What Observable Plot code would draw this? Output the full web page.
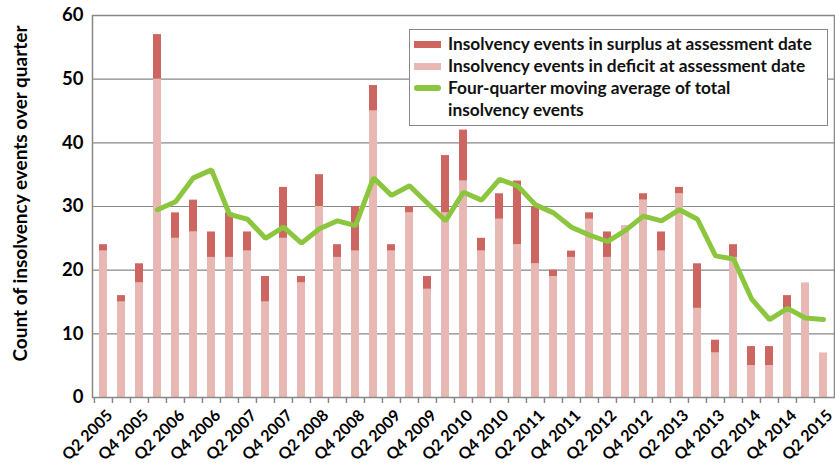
<!DOCTYPE html>
<html>
<head>
<meta charset="utf-8">
<script src="https://cdn.jsdelivr.net/npm/d3@7"></script>
<script src="https://cdn.jsdelivr.net/npm/@observablehq/plot@0.6"></script>
<style>
  html, body { margin: 0; padding: 0; background: #fff; }
  #wrap { position: relative; width: 835px; height: 467px; font-family: Lato, "Open Sans", sans-serif; }
  #legend { position: absolute; left: 409px; top: 29px; width: 419px; height: 97px; background: #fff;
    border: 1.5px solid #888; box-sizing: border-box; padding: 3px 0 0 4px; }
  .item { display: flex; align-items: flex-start; font-weight: 700; font-size: 17.3px; line-height: 22px; color: #111; }
  .sw { width: 27px; height: 7px; margin-top: 8px; margin-right: 7px; flex: none; }
</style>
</head>
<body>
<div id="wrap"></div>
<script>
const quarters = ["Q2 2005","Q3 2005","Q4 2005","Q1 2006","Q2 2006","Q3 2006","Q4 2006","Q1 2007","Q2 2007","Q3 2007","Q4 2007","Q1 2008","Q2 2008","Q3 2008","Q4 2008","Q1 2009","Q2 2009","Q3 2009","Q4 2009","Q1 2010","Q2 2010","Q3 2010","Q4 2010","Q1 2011","Q2 2011","Q3 2011","Q4 2011","Q1 2012","Q2 2012","Q3 2012","Q4 2012","Q1 2013","Q2 2013","Q3 2013","Q4 2013","Q1 2014","Q2 2014","Q3 2014","Q4 2014","Q1 2015","Q2 2015"];
const deficit = [23,15,18,50,25,26,22,22,23,15,25,18,30,22,23,45,23,29,17,29,34,23,28,24,21,19,22,28,22,27,31,23,32,14,7,22,5,5,14,18,7];
const surplus = [1,1,3,7,4,5,4,7,3,4,8,1,5,2,7,4,1,1,2,9,8,2,4,10,9,1,1,1,4,0,1,3,1,7,2,2,3,3,2,0,0];
const movingAvg = [null,null,null,29.5,30.75,34.5,35.75,28.75,28,25,26.75,24.25,26.5,27.75,27,34.5,31.75,33.25,30.5,27.75,32.25,31,34.25,33.25,30.25,29,26.75,25.5,24.5,26.25,28.5,27.75,29.5,28,22.25,21.75,15.5,12.25,14,12.5,12.25];
const yTicks = [0,10,20,30,40,50,60];
const xLabels = quarters.filter(q => q.startsWith("Q2") || q.startsWith("Q4"));

const seriesNames = ["Insolvency events in surplus at assessment date","Insolvency events in deficit at assessment date","Four-quarter moving average of total insolvency events"];
const colors = ["#cd6660","#e8b8b4","#8cc63f"];

const rows = [];
quarters.forEach((q, i) => {
  rows.push({q, s: "deficit", v: deficit[i], o: 0});
  rows.push({q, s: "surplus", v: surplus[i], o: 1});
});
const ma = quarters.map((q, i) => ({q, v: movingAvg[i]})).filter(d => d.v != null);

const W = 835, H = 467, ml = 92, mr = 1;
const step = (W - ml - mr) / quarters.length;

const chart = Plot.plot({
  width: W, height: H,
  marginLeft: ml, marginRight: mr, marginTop: 15, marginBottom: 70,
  style: {fontFamily: "Lato, 'Open Sans', sans-serif", color: "#000", background: "#fff", overflow: "visible"},
  x: {domain: quarters, paddingInner: 0.55, paddingOuter: 0.275, label: null},
  y: {domain: [0, 60], label: null},
  color: {domain: ["deficit","surplus"], range: [colors[1], colors[0]]},
  marks: [
    Plot.gridY(yTicks, {stroke: "#888", strokeOpacity: 1, strokeWidth: 1.2}),
    Plot.barY(rows, {x: "q", y: "v", fill: "s", order: "o"}),
    Plot.line(ma, {x: "q", y: "v", stroke: colors[2], strokeWidth: 5, strokeLinejoin: "miter"}),
    Plot.frame({stroke: "#888", strokeWidth: 1.5}),
    Plot.axisY(yTicks, {tickSize: 0, tickPadding: 9, fontSize: 18.5, fontWeight: 700, label: null}),
    Plot.text(["Count of insolvency events over quarter"], {frameAnchor: "left", textAnchor: "middle", dx: -72, dy: -13, rotate: -90, fontSize: 19, fontWeight: 700}),
    Plot.axisX({tickSize: 6, text: null, dx: -step/2, stroke: "#888", strokeWidth: 1.5, label: null}),
    Plot.axisX(xLabels, {tickSize: 0, tickPadding: 8, rotate: -45, textAnchor: "end", fontSize: 16, fontWeight: 700, dx: 2, dy: 3, label: null})
  ]
});

const wrap = document.getElementById("wrap");
wrap.appendChild(chart);
const lg = document.createElement("div");
lg.id = "legend";
lg.innerHTML = seriesNames.map((n, i) => {
  const txt = i === 2 ? "Four-quarter moving average of total<br>insolvency events" : n;
  const sw = i === 2 ? `<div class="sw" style="background:${colors[i]};border-radius:3px;height:6px"></div>` : `<div class="sw" style="background:${colors[i]}"></div>`;
  return `<div class="item">${sw}<span>${txt}</span></div>`;
}).join("");
wrap.appendChild(lg);
</script>
</body>
</html>
